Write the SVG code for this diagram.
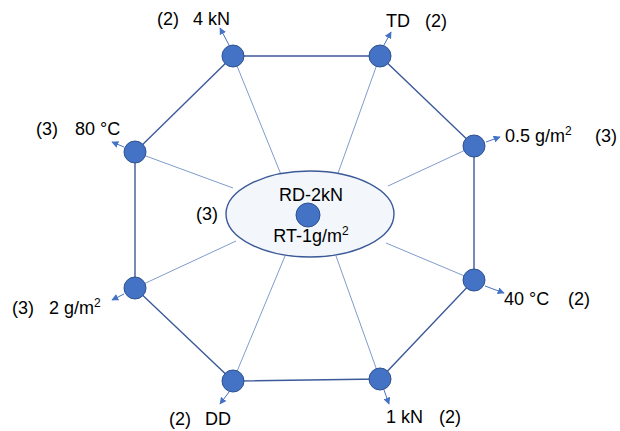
<svg xmlns="http://www.w3.org/2000/svg" width="620" height="431" viewBox="0 0 620 431">
  <style>
    .edge { stroke: #3C5A99; stroke-width: 1.4; fill: none; }
    .spoke { stroke: #7F9CCB; stroke-width: 1; fill: none; }
    .out { stroke: #4472C4; stroke-width: 1; fill: none; marker-end: url(#tip); }
    .dot { fill: #4472C4; stroke: #2F528F; stroke-width: 1; }
    text { font-family: "Liberation Sans", Arial, sans-serif; font-size: 18px; fill: #000; }
    .sup { font-size: 12px; }
  </style>
  <defs>
    <marker id="tip" viewBox="0 0 10 10" refX="9" refY="5" markerWidth="7" markerHeight="7" orient="auto" markerUnits="userSpaceOnUse">
      <path d="M0,0 L10,5 L0,10 z" fill="#4472C4"/>
    </marker>
  </defs>

  <g id="connectors">
    <!-- octagon ring -->
    <polygon class="edge" points="233,56 380,56 474,146 474,280 380,379 233,381 135,288 135,152"/>
    <!-- spokes to the hub -->
    <line class="spoke" x1="233" y1="56" x2="282" y2="177"/>
    <line class="spoke" x1="380" y1="56" x2="337" y2="176"/>
    <line class="spoke" x1="474" y1="146" x2="388" y2="186"/>
    <line class="spoke" x1="474" y1="280" x2="386" y2="243"/>
    <line class="spoke" x1="380" y1="379" x2="336" y2="256"/>
    <line class="spoke" x1="233" y1="381" x2="285" y2="256"/>
    <line class="spoke" x1="135" y1="288" x2="236" y2="241"/>
    <line class="spoke" x1="135" y1="152" x2="233" y2="188"/>
    <!-- outward arrows -->
    <line class="out" x1="229" y1="45" x2="220" y2="28"/>
    <line class="out" x1="384" y1="45" x2="391" y2="32"/>
    <line class="out" x1="124" y1="147" x2="112" y2="142"/>
    <line class="out" x1="486" y1="142" x2="500" y2="137"/>
    <line class="out" x1="124" y1="294" x2="112" y2="300"/>
    <line class="out" x1="485" y1="286" x2="504" y2="293"/>
    <line class="out" x1="229" y1="392" x2="220" y2="404"/>
    <line class="out" x1="384" y1="390" x2="389" y2="404"/>
  </g>

  <g id="hub">
    <ellipse cx="310" cy="214" rx="84" ry="43" fill="#F3F7FC" stroke="#3C5A99" stroke-width="1.4"/>
    <circle class="dot" cx="308" cy="215" r="12"/>
    <text x="311" y="201" text-anchor="middle">RD-2kN</text>
    <text x="311" y="242" text-anchor="middle">RT-1g/m<tspan class="sup" dy="-7">2</tspan></text>
    <text x="196" y="220">(3)</text>
  </g>

  <g id="n-4kN">
    <circle class="dot" cx="233" cy="56" r="11"/>
    <text x="157" y="25">(2)</text>
    <text x="193" y="25">4 kN</text>
  </g>
  <g id="n-TD">
    <circle class="dot" cx="380" cy="56" r="11"/>
    <text x="386" y="27">TD</text>
    <text x="425" y="27">(2)</text>
  </g>
  <g id="n-05g">
    <circle class="dot" cx="474" cy="146" r="11"/>
    <text x="505" y="142">0.5 g/m<tspan class="sup" dy="-7">2</tspan></text>
    <text x="595" y="142">(3)</text>
  </g>
  <g id="n-40C">
    <circle class="dot" cx="474" cy="280" r="11"/>
    <text x="504" y="305">40 °C</text>
    <text x="568" y="305">(2)</text>
  </g>
  <g id="n-1kN">
    <circle class="dot" cx="380" cy="379" r="11"/>
    <text x="386" y="423">1 kN</text>
    <text x="439" y="423">(2)</text>
  </g>
  <g id="n-DD">
    <circle class="dot" cx="233" cy="381" r="11"/>
    <text x="169" y="425">(2)</text>
    <text x="205" y="425">DD</text>
  </g>
  <g id="n-2g">
    <circle class="dot" cx="135" cy="288" r="11"/>
    <text x="12" y="314">(3)</text>
    <text x="49" y="314">2 g/m<tspan class="sup" dy="-7">2</tspan></text>
  </g>
  <g id="n-80C">
    <circle class="dot" cx="135" cy="152" r="11"/>
    <text x="36" y="135">(3)</text>
    <text x="75" y="135">80 °C</text>
  </g>
</svg>
